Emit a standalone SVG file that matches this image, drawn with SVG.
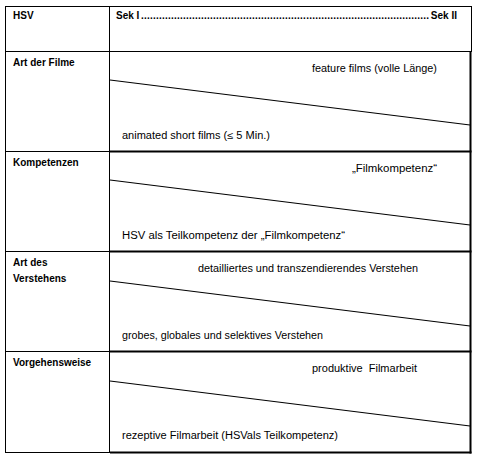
<svg xmlns="http://www.w3.org/2000/svg" width="479" height="457" viewBox="0 0 479 457">
<style>
text{font-family:"Liberation Sans",Arial,sans-serif;font-size:10px;fill:#000}
.b{font-weight:bold}
.thin{stroke:#000;stroke-width:1;fill:none}
.thick{stroke:#000;stroke-width:2;fill:none}
.diag{stroke:#000;stroke-width:1.1;fill:none}
</style>
<rect width="479" height="457" fill="#fff"/>
<g id="grid">
<line class="thin" x1="5" y1="6.5" x2="472" y2="6.5"/>
<line class="thin" x1="5.5" y1="6" x2="5.5" y2="453"/>
<line class="thin" x1="471.5" y1="6" x2="471.5" y2="52"/>
<line class="thick" x1="470.5" y1="51" x2="470.5" y2="453.5"/>
<line class="thin" x1="109.5" y1="6" x2="109.5" y2="453"/>
<line class="thin" x1="5" y1="51.5" x2="472" y2="51.5"/>
<line class="thin" x1="5" y1="151.5" x2="110" y2="151.5"/>
<line class="thick" x1="110" y1="151.5" x2="471.5" y2="151.5"/>
<line class="thin" x1="5" y1="251.5" x2="110" y2="251.5"/>
<line class="thick" x1="110" y1="251.5" x2="471.5" y2="251.5"/>
<line class="thin" x1="5" y1="351.5" x2="110" y2="351.5"/>
<line class="thick" x1="110" y1="351.5" x2="471.5" y2="351.5"/>
<line class="thin" x1="5" y1="452.5" x2="110" y2="452.5"/>
<line class="thick" x1="110" y1="452.5" x2="471.5" y2="452.5"/>
</g>
<g id="connectors">
<line class="diag" x1="110" y1="80" x2="470" y2="125"/>
<line class="diag" x1="110" y1="180" x2="470" y2="225"/>
<line class="diag" x1="110" y1="281" x2="470" y2="326"/>
<line class="diag" x1="110" y1="381" x2="470" y2="426"/>
</g>
<g id="header">
<text class="b" x="13" y="19">HSV</text>
<text class="b" x="116" y="19">Sek I</text>
<text class="b" x="141" y="19" textLength="288" lengthAdjust="spacing">................................................................................................</text>
<text class="b" x="457" y="19" text-anchor="end">Sek II</text>
</g>
<g id="row-art-der-filme">
<text class="b" x="13" y="66">Art der Filme</text>
<text x="312" y="72" textLength="125" lengthAdjust="spacingAndGlyphs">feature films (volle Länge)</text>
<text x="122" y="139" textLength="148" lengthAdjust="spacingAndGlyphs">animated short films (≤ 5 Min.)</text>
</g>
<g id="row-kompetenzen">
<text class="b" x="13" y="166">Kompetenzen</text>
<text x="352" y="172" textLength="85" lengthAdjust="spacingAndGlyphs">„Filmkompetenz“</text>
<text x="122" y="239" textLength="223" lengthAdjust="spacingAndGlyphs">HSV als Teilkompetenz der „Filmkompetenz“</text>
</g>
<g id="row-art-des-verstehens">
<text class="b" x="13" y="266">Art des</text>
<text class="b" x="13" y="282">Verstehens</text>
<text x="198" y="272" textLength="220" lengthAdjust="spacingAndGlyphs">detailliertes und transzendierendes Verstehen</text>
<text x="122" y="339" textLength="201" lengthAdjust="spacingAndGlyphs">grobes, globales und selektives Verstehen</text>
</g>
<g id="row-vorgehensweise">
<text class="b" x="13" y="366">Vorgehensweise</text>
<text x="312" y="372" textLength="105" lengthAdjust="spacingAndGlyphs" xml:space="preserve">produktive  Filmarbeit</text>
<text x="122" y="439" textLength="216" lengthAdjust="spacingAndGlyphs">rezeptive Filmarbeit (HSVals Teilkompetenz)</text>
</g>
</svg>
